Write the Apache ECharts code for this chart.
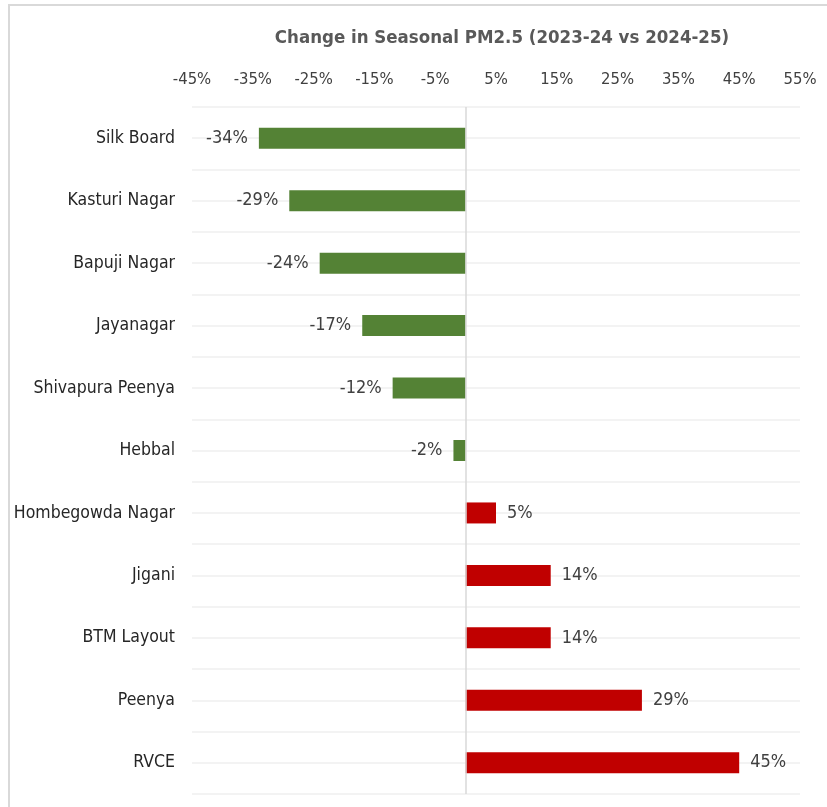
<!DOCTYPE html>
<html>
<head>
<meta charset="utf-8">
<style>
  html, body { margin: 0; padding: 0; background: #ffffff; }
  #chart { width: 827px; height: 807px; }
</style>
<script src="https://cdn.jsdelivr.net/npm/echarts@6/dist/echarts.min.js"></script>
</head>
<body>
<div id="chart"></div>
<script>
// Monitoring stations, top to bottom
const stations = [
  'Silk Board', 'Kasturi Nagar', 'Bapuji Nagar', 'Jayanagar', 'Shivapura Peenya',
  'Hebbal', 'Hombegowda Nagar', 'Jigani', 'BTM Layout', 'Peenya', 'RVCE'
];
// Change in seasonal PM2.5, percent
const changePct = [-34, -29, -24, -17, -12, -2, 5, 14, 14, 29, 45];
// Percent axis range
const axisMin = -45;
const axisMax = 55;
const axisStep = 10;

const FONT = '"DejaVu Sans Condensed", "Liberation Sans Narrow", "DejaVu Sans", sans-serif';
const GREEN = '#548235';
const RED = '#C00000';

const chart = echarts.init(document.getElementById('chart'));

const barData = changePct.map(v => ({
  value: v,
  itemStyle: { color: v < 0 ? GREEN : RED },
  label: { position: v < 0 ? 'left' : 'right' }
}));

chart.setOption({
  backgroundColor: '#ffffff',
  animation: false,
  title: {
    text: 'Change in Seasonal PM2.5 (2023-24 vs 2024-25)',
    left: 497,
    textAlign: 'center',
    top: 24,
    textStyle: { fontFamily: FONT, fontSize: 18.5, fontWeight: 'bold', color: '#595959' }
  },
  graphic: [{
    type: 'rect',
    shape: { x: 9, y: 5, width: 900, height: 900 },
    style: { fill: 'none', stroke: '#D9D9D9', lineWidth: 2 },
    silent: true
  }],
  grid: { left: 192, right: 27, top: 107, bottom: 13, containLabel: false },
  xAxis: {
    type: 'value',
    position: 'top',
    min: axisMin,
    max: axisMax,
    interval: axisStep,
    axisLine: { show: false },
    axisTick: { show: false },
    splitLine: { show: false },
    axisLabel: {
      margin: 19,
      formatter: v => Math.round(v) + '%',
      fontFamily: FONT, fontSize: 16.5, color: '#404040'
    }
  },
  yAxis: [{
    type: 'category',
    data: stations,
    inverse: true,
    axisLine: { show: false },
    axisTick: { show: false },
    splitLine: { show: false },
    axisLabel: { margin: 17, fontFamily: FONT, fontSize: 17.5, color: '#262626' }
  }, {
    // half-category grid: lines on every row centre and row boundary
    type: 'value',
    min: 0,
    max: stations.length * 2,
    interval: 1,
    position: 'right',
    axisLine: { show: false },
    axisTick: { show: false },
    axisLabel: { show: false },
    splitLine: { show: true, lineStyle: { color: '#EFEFEF', width: 1.5 } }
  }],
  series: [{
    type: 'bar',
    yAxisIndex: 0,
    data: barData,
    barWidth: 21,
    label: {
      show: true,
      distance: 11,
      formatter: p => p.value + '%',
      fontFamily: FONT, fontSize: 18, color: '#404040'
    },
    markLine: {
      silent: true,
      symbol: ['none', 'none'],
      label: { show: false },
      lineStyle: { color: '#D9D9D9', width: 1.5, type: 'solid' },
      data: [{ xAxis: 0 }]
    }
  }]
});
</script>
</body>
</html>
